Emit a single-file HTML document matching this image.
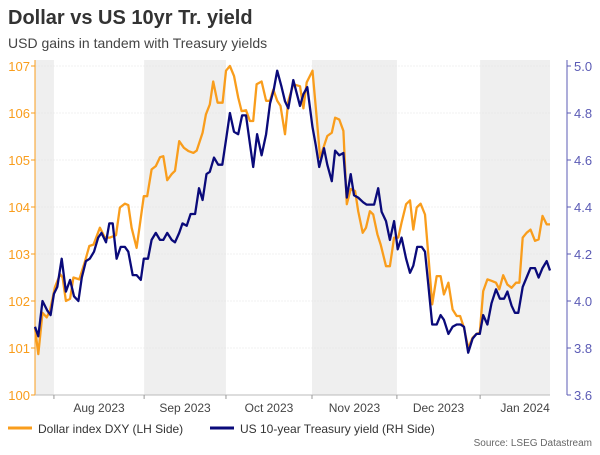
<!DOCTYPE html>
<html><head><meta charset="utf-8"><style>
body{margin:0;background:#fff;font-family:"Liberation Sans",Arial,sans-serif;}
</style></head><body>
<svg id="c" width="600" height="450" xmlns="http://www.w3.org/2000/svg">
<text x="8" y="24" font-size="20" font-weight="bold" fill="#333">Dollar vs US 10yr Tr. yield</text>
<text x="8" y="48" font-size="14" fill="#444">USD gains in tandem with Treasury yields</text>
<g id="bands"></g><g id="grid"></g><g id="axes"></g><g id="series"></g>
<g>
<line x1="8" y1="428" x2="32" y2="428" stroke="#f99d1c" stroke-width="3"/>
<text x="38" y="433" font-size="12" fill="#333">Dollar index DXY (LH Side)</text>
<line x1="210" y1="428" x2="234" y2="428" stroke="#0a0a7a" stroke-width="3"/>
<text x="240" y="433" font-size="12" fill="#333">US 10-year Treasury yield (RH Side)</text>
</g>
<text x="592" y="446" font-size="10" fill="#666" text-anchor="end">Source: LSEG Datastream</text>
</svg>
<script>
// days since Jul 24 2023
const dxyDays=[0,1.2,2.7,4.2,5.4,7.2,9,9.9,11.1,12.6,13.8,15.9,18,19.5,21,23.3,25.1,26.9,29.1,30.5,32.3,33.5,34.7,36.5,37.7,39.1,40.3,41.9,43.4,44.9,46.1,47.5,49.1,50.3,51.8,53.5,55.1,56.9,58.1,60.2,61.4,62.8,64,65.6,67.4,68.6,70,71.5,73,74.2,75.8,77.2,78.4,79.6,81.4,83,84.4,85.6,87,88.2,89.8,91,92.8,
95.2,96.4,97.6,99.7,101.2,102.4,103.6,105,106.6,107.8,109.3,110.8,112,113.4,115,116.1,117.7,118.9,120.3,121.5,123,124.2,126.1,127.5,129,130.5,131.7,133.3,134.7,135.9,137.1,138.5,140.1,141.3,142.7,144.3,145.7,146.9,148.5,150,151.5,152.7,154.1,155.6,157.2,158.6,159.8,161,162.5,164,165.6,166.8,168.2,169.7,171.2,172.8,174,175.2,176.6,178,179.6,180.9,182.3,183.8,185];
const dxy=[101.43,100.87,101.75,101.65,101.8,102.3,102.57,102.5,102.0,102.05,102.5,102.46,102.85,103.17,103.2,103.56,103.35,103.35,103.4,103.99,104.07,104.04,103.56,103.13,103.63,104.23,104.23,104.8,104.87,105.06,105.08,104.57,104.7,104.77,105.4,105.26,105.19,105.15,105.2,105.58,105.97,106.18,106.67,106.22,106.22,106.9,107.0,106.79,106.33,106.04,106.06,105.83,105.83,106.61,106.67,106.26,106.26,106.5,106.26,106.15,105.55,106.26,106.61,
106.57,106.1,106.65,106.9,105.9,105.05,105.26,105.51,105.58,105.9,105.86,105.62,104.06,104.38,104.34,103.91,103.45,103.56,103.91,103.84,103.42,103.2,102.74,102.74,103.35,103.35,103.67,104.06,104.14,103.52,103.99,104.07,103.84,102.99,101.93,102.53,102.53,102.14,102.39,101.82,101.68,101.68,101.43,101.0,101.22,101.3,101.33,102.21,102.46,102.43,102.39,102.25,102.55,102.35,102.28,102.39,102.39,103.35,103.45,103.52,103.28,103.31,103.81,103.63,103.63];
const yldDays=[0,1.2,2.7,4.4,5.6,6.8,8,9.6,11.1,12.6,14,15.6,16.8,18.3,19.7,21.2,22.7,23.9,25.5,26.7,27.9,29.3,30.8,32.3,33.5,35.1,36.5,38,39.1,40.6,41.9,43.4,44.9,46.1,47.5,49.1,50.3,51.8,53,54.5,55.9,57.5,58.9,60.2,61.6,62.8,64.3,65.8,67.3,68.8,70,71.5,73,74.4,75.8,77.2,78.4,79.8,81.4,83,84.4,85.8,87,88.6,89.8,91,92.8,
95.2,96.4,97.8,99.7,100.9,102.1,103.8,105,106.6,107.8,109.3,110.8,112,113.4,114.6,116.1,117.9,119.1,120.6,121.8,123.3,124.5,126.1,127.5,129,130.3,131.7,133.3,134.7,135.9,137.3,138.9,140.1,141.3,142.7,144.3,145.7,146.9,148.5,150,151.5,152.9,154.1,155.6,157.2,158.6,159.8,161,162.5,164,165.6,167,168.5,169.7,171.2,172.4,173.6,175.2,176.6,178,179.6,180.9,182.3,183.8,185];
const yld=[3.89,3.85,4.0,3.96,3.94,4.03,4.06,4.18,4.04,4.09,4.02,4.0,4.1,4.17,4.18,4.21,4.27,4.29,4.25,4.33,4.33,4.18,4.23,4.23,4.21,4.11,4.11,4.09,4.18,4.18,4.26,4.29,4.26,4.26,4.29,4.26,4.25,4.29,4.33,4.32,4.37,4.37,4.48,4.43,4.54,4.55,4.61,4.58,4.58,4.7,4.8,4.72,4.71,4.79,4.79,4.67,4.57,4.71,4.62,4.71,4.84,4.9,4.98,4.91,4.85,4.82,4.94,
4.83,4.88,4.91,4.74,4.66,4.57,4.65,4.58,4.51,4.64,4.62,4.63,4.44,4.54,4.45,4.44,4.42,4.41,4.41,4.41,4.48,4.38,4.34,4.26,4.34,4.22,4.27,4.18,4.12,4.15,4.23,4.23,4.21,4.07,3.9,3.9,3.94,3.92,3.86,3.89,3.9,3.9,3.89,3.78,3.84,3.86,3.86,3.94,3.9,3.99,4.05,4.01,4.01,4.04,3.98,3.95,3.95,4.06,4.1,4.14,4.14,4.1,4.14,4.17,4.13];
const leftTicks=[100,101,102,103,104,105,106,107];
const rightTicks=[3.6,3.8,4.0,4.2,4.4,4.6,4.8,5.0];
const monthLabels=["Aug 2023","Sep 2023","Oct 2023","Nov 2023","Dec 2023","Jan 2024"];
const monthStartDay=[6.8,39.2,68.6,99.5,130,159.9];
const totalDays=185;
const NS="http://www.w3.org/2000/svg";
const X0=35,X1=550,Y0=395,Y1=66;
const xDay=d=>X0+(X1-X0)*d/totalDays;
const yL=v=>Y0-(v-100)/7*(Y0-Y1);
const yR=v=>Y0-(v-3.6)/1.4*(Y0-Y1);
function el(t,a,p){const e=document.createElementNS(NS,t);for(const k in a)e.setAttribute(k,a[k]);document.getElementById(p).appendChild(e);return e;}
const bandIdx=[[-1,0],[1,2],[3,4],[5,6]];
bandIdx.forEach(b=>{const xa=b[0]<0?X0:xDay(monthStartDay[b[0]]);const xb=b[1]>=monthStartDay.length?X1:xDay(monthStartDay[b[1]]);
const r=el('rect',{x:xa,y:Y1-6,width:xb-xa,height:Y0-Y1+6,fill:'#efefef'},'bands');

});
leftTicks.forEach(v=>{
const g=el('line',{x1:X0,x2:X1,y1:yL(v),y2:yL(v),stroke:'#e4e4e4','stroke-width':0.6,'stroke-dasharray':'2,1'},'grid');


el('line',{x1:X0-4,x2:X0,y1:yL(v),y2:yL(v),stroke:'#f99d1c'},'axes');
const t=el('text',{x:X0-5,y:yL(v)+5,'font-size':13,fill:'#f99d1c','text-anchor':'end'},'axes');t.textContent=v;

});
rightTicks.forEach(v=>{
el('line',{x1:567,x2:571,y1:yR(v),y2:yR(v),stroke:'#5b5bb5'},'axes');
const t=el('text',{x:574,y:yR(v)+5,'font-size':13,fill:'#5b5bb5'},'axes');t.textContent=v.toFixed(1);

});
el('line',{x1:X0,x2:X0,y1:Y1-6,y2:Y0,stroke:'#f99d1c'},'axes');
el('line',{x1:567,x2:567,y1:Y1-6,y2:Y0,stroke:'#5b5bb5'},'axes');
el('line',{x1:X0,x2:X1,y1:Y0,y2:Y0,stroke:'#bbb'},'axes');
monthLabels.forEach((m,i)=>{const x=xDay(monthStartDay[i]);
el('line',{x1:x,x2:x,y1:Y0,y2:Y0+4,stroke:'#999'},'axes');
const nx=i+1<monthStartDay.length?xDay(monthStartDay[i+1]):X1+20;
const t=el('text',{x:(x+nx)/2,y:412,'font-size':12,fill:'#444','text-anchor':'middle'},'axes');t.textContent=m;

});
function line(days,arr,ys,col,name){const pts=arr.map((v,i)=>xDay(days[i]).toFixed(1)+','+ys(v).toFixed(1)).join(' ');
const p=el('polyline',{points:pts,fill:'none',stroke:col,'stroke-width':2.3,'stroke-linejoin':'round'},'series');

}
line(dxyDays,dxy,yL,'#f99d1c','dxy-line');
line(yldDays,yld,yR,'#0a0a7a','yield-line');
</script>
</body></html>
